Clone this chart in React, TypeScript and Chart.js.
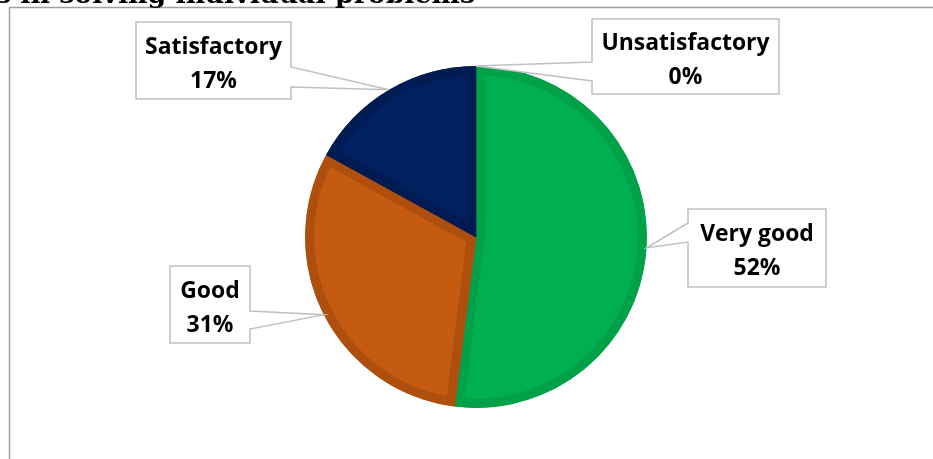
import React, { useEffect, useRef } from "react";
import { Chart, registerables } from "chart.js";

Chart.register(...registerables);

const categories = ["Very good", "Good", "Satisfactory", "Unsatisfactory"];
const values = [52, 31, 17, 0];
const valueLabels = ["52%", "31%", "17%", "0%"];
const fillColors = ["#00B050", "#C55A11", "#002060", "#7F7F7F"];
const edgeColors = ["#00A148", "#AF4F0E", "#001A52", "#6F6F6F"];
const titleText = "Skills in solving individual problems";

// callout box layout (pixels), one per category
const boxes = [
  { x: 688, y: 209, w: 138, h: 78, side: "left", wy1: 223, wy2: 242 },
  { x: 170, y: 266, w: 80, h: 77, side: "right", wy1: 311, wy2: 329 },
  { x: 136, y: 22, w: 155, h: 77, side: "right", wy1: 67, wy2: 87 },
  { x: 592, y: 19, w: 187, h: 75, side: "left", wy1: 62, wy2: 81 },
];

const calloutPlugin = {
  id: "callouts",
  afterDraw(chart: any) {
    const ctx = chart.ctx as CanvasRenderingContext2D;
    const meta = chart.getDatasetMeta(0);
    ctx.save();
    // frame lines
    ctx.strokeStyle = "#a0a0a0";
    ctx.lineWidth = 1.5;
    ctx.beginPath();
    ctx.moveTo(9.5, 460);
    ctx.lineTo(9.5, 7.5);
    ctx.lineTo(934, 7.5);
    ctx.stroke();

    // clipped title
    ctx.fillStyle = "#000";
    let fs = 24;
    ctx.font = `bold ${fs}px 'DejaVu Serif', serif`;
    const w = ctx.measureText("in solving individual problems").width;
    fs = (fs * 455) / w;
    ctx.font = `bold ${fs}px 'DejaVu Serif', serif`;
    ctx.textAlign = "right";
    ctx.textBaseline = "alphabetic";
    ctx.fillText(titleText, 475, 3);

    // label font sized so "Satisfactory" is ~137px wide
    let ls = 20;
    ctx.font = `bold ${ls}px 'Open Sans', sans-serif`;
    ls = (ls * 137) / ctx.measureText("Satisfactory").width;
    const labelFont = `bold ${ls}px 'Open Sans', sans-serif`;

    meta.data.forEach((arc: any, i: number) => {
      const b = boxes[i];
      if (!b) return;
      const p = arc.getProps(["x", "y", "startAngle", "endAngle", "outerRadius"], true);
      const mid = (p.startAngle + p.endAngle) / 2;
      const tx = p.x + Math.cos(mid) * p.outerRadius;
      const ty = p.y + Math.sin(mid) * p.outerRadius;
      ctx.beginPath();
      if (b.side === "right") {
        ctx.moveTo(b.x, b.y);
        ctx.lineTo(b.x + b.w, b.y);
        ctx.lineTo(b.x + b.w, b.wy1);
        ctx.lineTo(tx, ty);
        ctx.lineTo(b.x + b.w, b.wy2);
        ctx.lineTo(b.x + b.w, b.y + b.h);
        ctx.lineTo(b.x, b.y + b.h);
      } else {
        ctx.moveTo(b.x, b.y);
        ctx.lineTo(b.x + b.w, b.y);
        ctx.lineTo(b.x + b.w, b.y + b.h);
        ctx.lineTo(b.x, b.y + b.h);
        ctx.lineTo(b.x, b.wy2);
        ctx.lineTo(tx, ty);
        ctx.lineTo(b.x, b.wy1);
      }
      ctx.closePath();
      ctx.fillStyle = "#ffffff";
      ctx.fill();
      ctx.strokeStyle = "#c0c0c0";
      ctx.lineWidth = 1.5;
      ctx.stroke();

      const cx = b.x + b.w / 2;
      const cy = b.y + b.h / 2;
      ctx.fillStyle = "#000";
      ctx.textAlign = "center";
      ctx.font = labelFont;
      ctx.fillText(chart.data.labels[i], cx, cy - 7);
      ctx.fillText(valueLabels[i], cx, cy + 27);
    });
    ctx.restore();
  },
};

export default function App() {
  const ref = useRef<HTMLCanvasElement>(null);
  useEffect(() => {
    const chart = new Chart(ref.current as HTMLCanvasElement, {
      type: "pie",
      data: {
        labels: categories,
        datasets: [
          {
            data: values,
            backgroundColor: fillColors,
            borderColor: edgeColors,
            borderWidth: values.map((v) => (v > 0 ? 9 : 0)),
            borderAlign: "inner",
          } as any,
        ],
      },
      options: {
        responsive: false,
        animation: false,
        layout: { padding: { left: 305, top: 66, right: 286, bottom: 51 } },
        plugins: {
          legend: { display: false },
          tooltip: { enabled: false },
          title: { display: false },
        },
      },
      plugins: [calloutPlugin],
    });
    return () => chart.destroy();
  }, []);
  return (
    <div style={{ position: "fixed", left: 0, top: 0, width: 933, height: 459, background: "#fff" }}>
      <canvas ref={ref} width={933} height={459} style={{ display: "block" }} />
    </div>
  );
}
